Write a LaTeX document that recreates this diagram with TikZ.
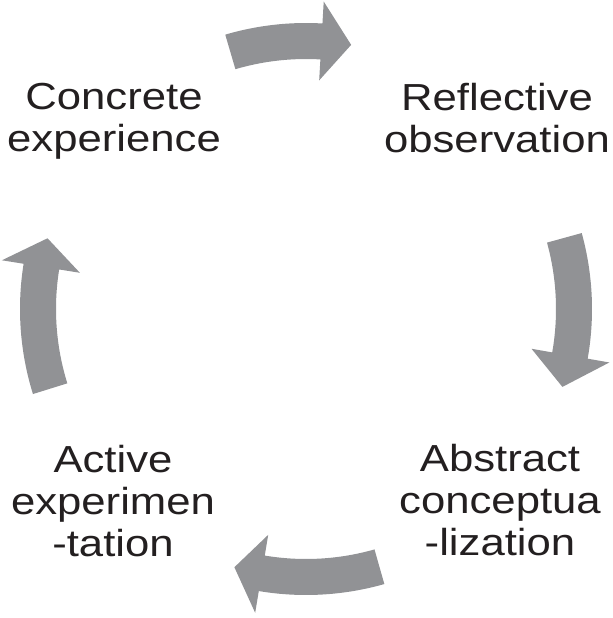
\documentclass[tikz,border=0pt]{standalone}
\usepackage{fontspec}
\usepackage{tikz}
\newfontfamily\stagefont[FakeStretch=1.16]{Liberation Sans}
\definecolor{arrowgray}{RGB}{145,146,149}
\definecolor{stagetext}{RGB}{35,31,32}

\begin{document}
\begin{tikzpicture}[x=1bp,y=1bp]
	\tikzset{stage/.style={anchor=north,inner sep=0,align=center,text=stagetext,font=\stagefont\fontsize{37.8pt}{42.2pt}\selectfont}}
	\useasboundingbox (-306,-309) rectangle (307,309);
	% Stages %
	\node (concrete) [stage] at (-192,226) {Concrete\\experience};
	\node (reflective) [stage] at (191,226) {Reflective\\observation};
	\node (abstract) [stage] at (194,-135) {Abstract\\conceptua\\-lization};
	\node (active) [stage] at (-193,-136) {Active\\experimen\\-tation};
	% Arrows %
	\foreach \tail/\base/\tip in {106.4/86.7/80.3, 15.4/-10/-16.9, -74.1/-99.5/-105.5, 197.3/170.9/164.7}
		{\fill [arrowgray] (\tail:286) arc [start angle=\tail, end angle=\base, radius=286bp] -- (\base:308) -- (\tip:268) -- (\base:229) -- (\base:250) arc [start angle=\base, end angle=\tail, radius=250bp] -- cycle;}
\end{tikzpicture}
\end{document}
